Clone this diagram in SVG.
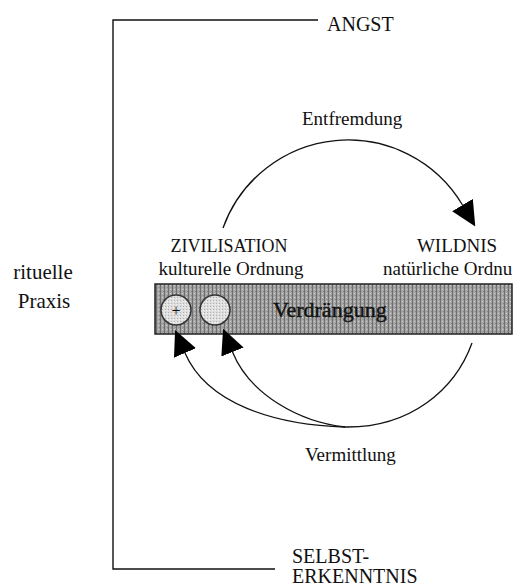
<svg xmlns="http://www.w3.org/2000/svg" width="520" height="588" viewBox="0 0 520 588">
  <style>
    .t { font-family: "Liberation Serif", "Times New Roman", serif; fill: #111; }
    .line { fill: none; stroke: #111; stroke-width: 1.4; }
    .arc { fill: none; stroke: #111; stroke-width: 1.3; }
  </style>
  <defs>
    <marker id="arrow" viewBox="0 0 25 24" refX="0" refY="12" markerWidth="25" markerHeight="24" markerUnits="userSpaceOnUse" orient="auto">
      <path d="M0,0 L25,12 L0,24 Z" fill="#000"/>
    </marker>
    <pattern id="dither" width="4" height="4" patternUnits="userSpaceOnUse">
      <rect width="4" height="4" fill="#a4a4a4"/>
      <rect x="0" y="0" width="1" height="4" fill="#6e6e6e"/>
      <rect x="2" y="1" width="1" height="1" fill="#d4d4d4"/>
      <rect x="3" y="3" width="1" height="1" fill="#888"/>
    </pattern>
    <pattern id="lightdither" width="3" height="3" patternUnits="userSpaceOnUse">
      <rect width="3" height="3" fill="#dedede"/>
      <rect x="0" y="0" width="1" height="1" fill="#b0b0b0"/>
      <rect x="2" y="1" width="1" height="1" fill="#f4f4f4"/>
    </pattern>
    <clipPath id="clipRight">
      <rect x="0" y="0" width="512" height="588"/>
    </clipPath>
  </defs>

  <g id="bracket">
    <path class="line" d="M318,20 H113 V569 H275"/>
  </g>

  <g id="angst">
    <text class="t" x="327" y="31" font-size="20">ANGST</text>
  </g>

  <g id="selbsterkenntnis">
    <text class="t" x="292" y="563" font-size="20">SELBST-</text>
    <text class="t" x="292" y="583" font-size="20">ERKENNTNIS</text>
  </g>

  <g id="rituelle-praxis">
    <text class="t" x="43" y="279" font-size="21" text-anchor="middle">rituelle</text>
    <text class="t" x="44" y="308" font-size="21" text-anchor="middle">Praxis</text>
  </g>

  <g id="zivilisation">
    <text class="t" x="229" y="252" font-size="18" text-anchor="middle">ZIVILISATION</text>
    <text class="t" x="231" y="275" font-size="19" text-anchor="middle">kulturelle Ordnung</text>
  </g>

  <g id="wildnis" clip-path="url(#clipRight)">
    <text class="t" x="457" y="252" font-size="19" text-anchor="middle">WILDNIS</text>
    <text class="t" x="383" y="275" font-size="19">natürliche Ordnung</text>
  </g>

  <g id="verdraengung">
    <rect x="155" y="284" width="357" height="50" fill="url(#dither)" stroke="#222" stroke-width="1.5"/>
    <circle cx="176" cy="310" r="15" fill="url(#lightdither)" stroke="#333" stroke-width="1.5"/>
    <text class="t" x="176" y="316" font-size="16" text-anchor="middle">+</text>
    <circle cx="215" cy="310" r="15" fill="url(#lightdither)" stroke="#333" stroke-width="1.5"/>
    <text class="t" x="273" y="317" font-size="22" fill="#1a1a1a" stroke="#1a1a1a" stroke-width="0.5">Verdrängung</text>
  </g>

  <g id="connectors">
    <path class="arc" d="M223,228 A133,133 0 0 1 462.5,205" marker-end="url(#arrow)"/>
    <path class="arc" d="M472,343 C455,390 410,428 345,427 C275,425 207,404 185,353" marker-end="url(#arrow)"/>
    <path class="arc" d="M345,427 C300,422 250,395 232.5,352" marker-end="url(#arrow)"/>
  </g>

  <g id="labels">
    <text class="t" x="302" y="125" font-size="19">Entfremdung</text>
    <text class="t" x="305" y="461" font-size="19">Vermittlung</text>
  </g>
</svg>
